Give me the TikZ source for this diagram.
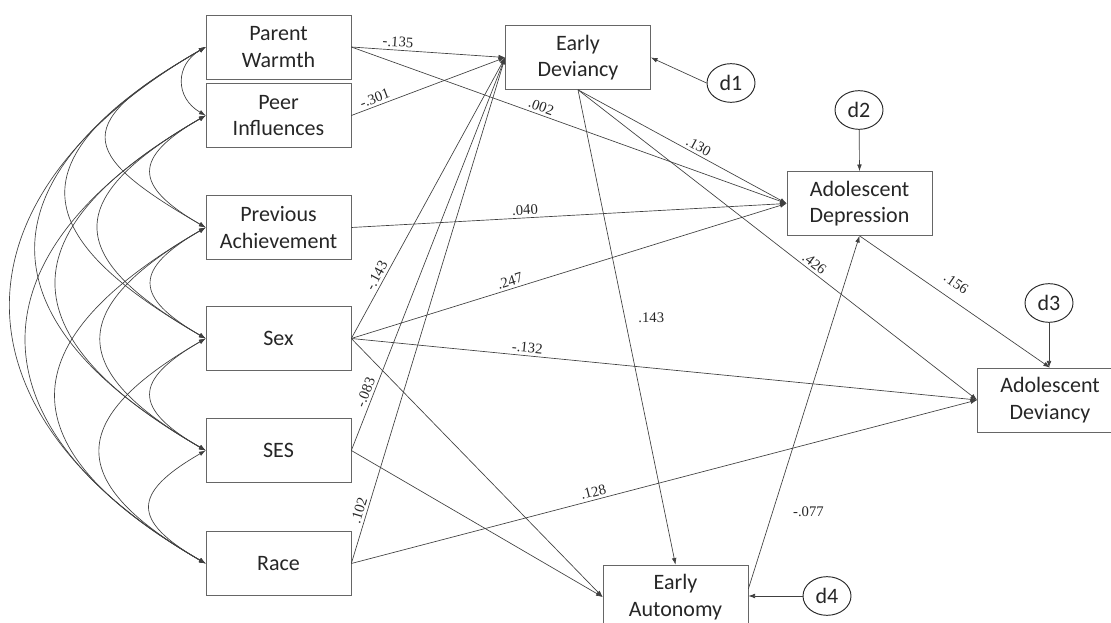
\documentclass[tikz,border=0pt]{standalone}
\usepackage{fontspec}
\setmainfont{Carlito}
\newfontfamily\coeffont{Liberation Serif}
\usetikzlibrary{arrows.meta,positioning,shapes.geometric}

\tikzset{
  var/.style={draw=black!60, line width=0.5pt, minimum width=108.75pt, minimum height=48pt,
    align=center, inner sep=1pt, text=black!85, font=\fontsize{16.5}{20}\selectfont},
  dist/.style={ellipse, draw=black!85, line width=0.7pt, minimum width=36pt, minimum height=29pt,
    inner sep=0pt, text=black!85, font=\fontsize{16.5}{20}\selectfont},
  eff/.style={-{Latex[length=5pt,width=3.5pt]}, draw=black!75, line width=0.5pt},
  covar/.style={{Latex[length=5pt,width=3.5pt]}-{Latex[length=5pt,width=3.5pt]}, draw=black!75, line width=0.5pt},
  coef/.style={font=\coeffont\fontsize{11}{13}\selectfont, text=black!85, inner sep=2pt}
}

\begin{document}
\begin{tikzpicture}[x=0.75pt,y=0.75pt]
\useasboundingbox (0,0) rectangle (1111,-623);

% exogenous variables
\node[var] (pw)    at (278.5,-47)    {Parent\\Warmth};
\node[var] (peer)  at (278.5,-115.5) {Peer\\Influences};
\node[var] (prev)  at (278.5,-227.5) {Previous\\Achievement};
\node[var] (sex)   at (278.5,-338.5) {Sex};
\node[var] (ses)   at (278.5,-450.5) {SES};
\node[var] (race)  at (278.5,-563.5) {Race};

% endogenous variables
\node[var] (ed)  at (578,-57.5)   {Early\\Deviancy};
\node[var] (adp) at (859.5,-203.5) {Adolescent\\Depression};
\node[var] (adv) at (1050,-400)   {Adolescent\\Deviancy};
\node[var] (ea)  at (675.5,-597) {Early\\Autonomy};

% disturbances
\node[dist] (d1) at (731,-83)  {d1};
\node[dist] (d2) at (859,-110) {d2};
\node[dist] (d3) at (1049,-303) {d3};
\node[dist] (d4) at (827,-596) {d4};

\draw[eff] (d1.west) -- (ed.east);
\draw[eff] (d2) -- (adp.north);
\draw[eff] (d3) -- (d3 |- adv.north);
\draw[eff] (d4) -- (d4 -| ea.east);

% covariances
\draw[covar] (pw.west)   to[out=210,in=150,looseness=1.33] (peer.west);
\draw[covar] (peer.west) to[out=210,in=150,looseness=1.93] (prev.west);
\draw[covar] (prev.west) to[out=210,in=150,looseness=1.93] (sex.west);
\draw[covar] (sex.west)  to[out=210,in=150,looseness=1.93] (ses.west);
\draw[covar] (ses.west)  to[out=210,in=150,looseness=1.95] (race.west);
\draw[covar] (pw.west)   to[out=210,in=150,looseness=2.17] (prev.west);
\draw[covar] (peer.west) to[out=210,in=150,looseness=1.90] (sex.west);
\draw[covar] (prev.west) to[out=210,in=150,looseness=1.85] (ses.west);
\draw[covar] (sex.west)  to[out=210,in=150,looseness=1.85] (race.west);
\draw[covar] (pw.west)   to[out=210,in=150,looseness=1.89] (sex.west);
\draw[covar] (peer.west) to[out=210,in=150,looseness=1.76] (ses.west);
\draw[covar] (prev.west) to[out=210,in=150,looseness=1.76] (race.west);
\draw[covar] (pw.west)   to[out=210,in=150,looseness=1.66] (ses.west);
\draw[covar] (peer.west) to[out=210,in=150,looseness=1.58] (race.west);
\draw[covar] (pw.west)   to[out=210,in=150,looseness=1.49] (race.west);

% paths
\draw[eff] (pw.east)   -- node[coef,sloped,above,pos=0.3]{-.135} (ed.west);
\draw[eff] (pw.east)   -- node[coef,sloped,above,pos=0.43]{.002} (adp.west);
\draw[eff] (peer.east) -- node[coef,sloped,above,pos=0.17]{-.301} (ed.west);
\draw[eff] (prev.east) -- node[coef,sloped,above,pos=0.4]{.040} (adp.west);
\draw[eff] (sex.east)  -- node[coef,sloped,above,pos=0.21]{-.143} (ed.west);
\draw[eff] (sex.east)  -- node[coef,sloped,above,pos=0.37]{.247} (adp.west);
\draw[eff] (sex.east)  -- node[coef,sloped,above,pos=0.28]{-.132} (adv.west);
\draw[eff] (sex.east)  -- (ea.west);
\draw[eff] (ses.east)  -- node[coef,sloped,above,pos=0.14]{-.083} (ed.west);
\draw[eff] (ses.east)  -- (ea.west);
\draw[eff] (race.east) -- node[coef,sloped,above,pos=0.1]{.102} (ed.west);
\draw[eff] (race.east) -- node[coef,sloped,above,pos=0.39]{.128} (adv.west);
\draw[eff] (ed.south)  -- node[coef,sloped,above,pos=0.56]{.130} (adp.west);
\draw[eff] (ed.south)  -- node[coef,sloped,above,pos=0.58]{.426} (adv.west);
\draw[eff] (ed.south)  -- node[coef,right=8pt,pos=0.48]{.143} (ea.north);
\draw[eff] ([yshift=6pt]ea.east) -- node[coef,right=13pt,pos=0.22]{-.077} (adp.south);
\draw[eff] (adp.south) -- node[coef,sloped,above=6pt,pos=0.46]{.156} (adv.north);
\end{tikzpicture}
\end{document}
